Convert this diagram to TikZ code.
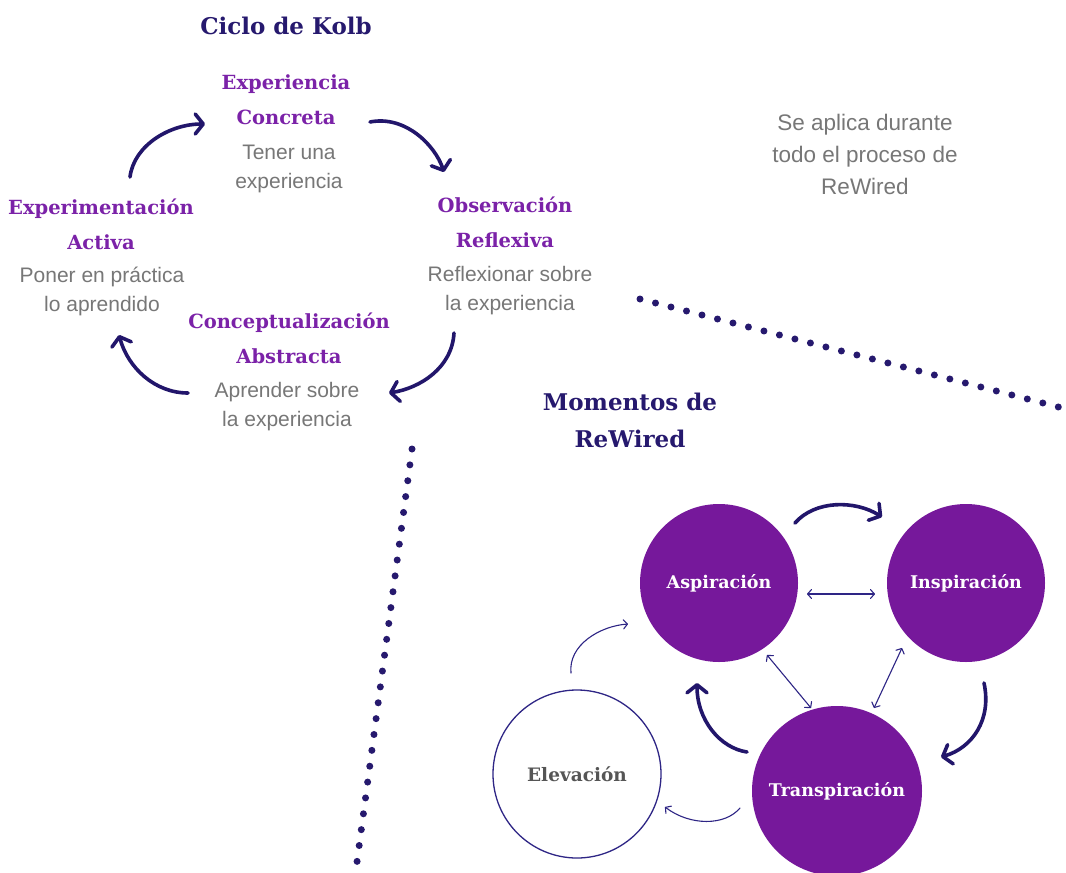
\documentclass[tikz,border=0pt]{standalone}
\usepackage{fontspec}
\setmainfont{Liberation Sans}
\newfontfamily\hfont{DejaVu Serif}
\usetikzlibrary{arrows.meta}
\definecolor{navy}{HTML}{26196E}
\definecolor{arrowc}{HTML}{22166B}
\definecolor{purp}{HTML}{7B22A8}
\definecolor{circfill}{HTML}{76189B}
\definecolor{gtext}{HTML}{777777}
\definecolor{etext}{HTML}{555555}
\definecolor{ring}{HTML}{2E2585}
\tikzset{
  ttl/.style={font=\hfont\bfseries\fontsize{23}{37}\selectfont, text=navy, align=center},
  klabel/.style={font=\hfont\bfseries\fontsize{19.5}{35}\selectfont, text=purp, align=center},
  desc/.style={font=\fontsize{21}{29}\selectfont, text=gtext, align=center},
  bigarrow/.style={draw=arrowc, line width=3.6pt, line cap=round, -{Straight Barb[length=8pt,width=20pt,round]}},
  thinarrow/.style={draw=ring, line width=1.1pt, line cap=round, -{Straight Barb[length=4pt,width=9pt,round]}},
  biarrow/.style={draw=ring, line width=1.1pt, line cap=round, {Straight Barb[length=4pt,width=9pt,round]}-{Straight Barb[length=4pt,width=9pt,round]}},
  dotline/.style={draw=navy, line width=7pt, line cap=round, dash pattern=on 0pt off 16pt},
  moment/.style={circle, fill=circfill, inner sep=0pt, font=\hfont\bfseries\fontsize{17.5}{20}\selectfont, text=white},
}
\begin{document}
\begin{tikzpicture}[x=1pt,y=-1pt]
\useasboundingbox (0,0) rectangle (1066,873);
\fill[white] (0,0) rectangle (1066,873);

% Kolb cycle
\node[ttl] (kolbtitle) at (286,26) {Ciclo de Kolb};
\node[klabel] (ec) at (286,100) {Experiencia\\Concreta};
\node[desc] (ecd) at (289,169) {Tener una\\experiencia};
\node[klabel] (ea) at (101,224) {Experimentación\\Activa};
\node[desc] (ead) at (102,291) {Poner en práctica\\lo aprendido};
\node[klabel] (or) at (505,222) {Observación\\Reflexiva};
\node[desc] (ord) at (510,291) {Reflexionar sobre\\la experiencia};
\node[klabel] (ca) at (289,338) {Conceptualización\\Abstracta};
\node[desc] (cad) at (287,407) {Aprender sobre\\la experiencia};

\coordinate (k1s) at (130,177); \coordinate (k1e) at (205,124);
\coordinate (k2s) at (370,122); \coordinate (k2e) at (444,172);
\coordinate (k3s) at (454,333); \coordinate (k3e) at (389,393);
\coordinate (k4s) at (188,393); \coordinate (k4e) at (119,335);
\draw[bigarrow] (k1s) .. controls (134,145) and (170,124) .. (k1e);
\draw[bigarrow] (k2s) .. controls (405,115) and (435,145) .. (k2e);
\draw[bigarrow] (k3s) .. controls (452,368) and (420,388) .. (k3e);
\draw[bigarrow] (k4s) .. controls (155,393) and (128,368) .. (k4e);

% side note
\node[desc, font=\fontsize{22.5}{29}\selectfont] (note) at (865,154) {Se aplica durante\\[3pt]todo el proceso de\\[3pt]ReWired};

% dotted separators
\coordinate (d1s) at (412,449); \coordinate (d1e) at (357,862);
\draw[dotline] (d1s) -- (d1e);
\coordinate (d2s) at (640,299); \coordinate (d2e) at (1070,410);
\draw[dotline] (d2s) -- (d2e);

% ReWired moments
\node[ttl] (momtitle) at (630,420) {Momentos de\\ReWired};

\node[moment, minimum size=158pt] (asp) at (719,583) {Aspiración};
\node[moment, minimum size=158pt] (insp) at (966,583) {Inspiración};
\node[moment, minimum size=170pt] (trans) at (837,791) {Transpiración};
\node[circle, draw=ring, line width=1.3pt, minimum size=168pt, inner sep=0pt, font=\hfont\bfseries\fontsize{18.5}{20}\selectfont, text=etext] (elev) at (577,774) {Elevación};

\coordinate (r1s) at (795,523); \coordinate (r1e) at (882,517);
\coordinate (r2s) at (984,683); \coordinate (r2e) at (941,757);
\coordinate (r3s) at (747,752); \coordinate (r3e) at (697,683);
\draw[bigarrow] (r1s) .. controls (815,500) and (855,500) .. (r1e);
\draw[bigarrow] (r2s) .. controls (992,720) and (972,748) .. (r2e);
\draw[bigarrow] (r3s) .. controls (720,748) and (697,720) .. (r3e);

\coordinate (e1s) at (571,673); \coordinate (e1e) at (628,624);
\coordinate (e2s) at (740,808); \coordinate (e2e) at (665,807);
\draw[thinarrow] (e1s) .. controls (568,645) and (600,626) .. (e1e);
\draw[thinarrow] (e2s) .. controls (725,826) and (690,826) .. (e2e);

\coordinate (b1s) at (807,594); \coordinate (b1e) at (875,594);
\coordinate (b2s) at (767,655); \coordinate (b2e) at (811,708);
\coordinate (b3s) at (902,648); \coordinate (b3e) at (874,708);
\draw[biarrow] (b1s) -- (b1e);
\draw[biarrow] (b2s) -- (b2e);
\draw[biarrow] (b3s) -- (b3e);
\end{tikzpicture}
\end{document}
